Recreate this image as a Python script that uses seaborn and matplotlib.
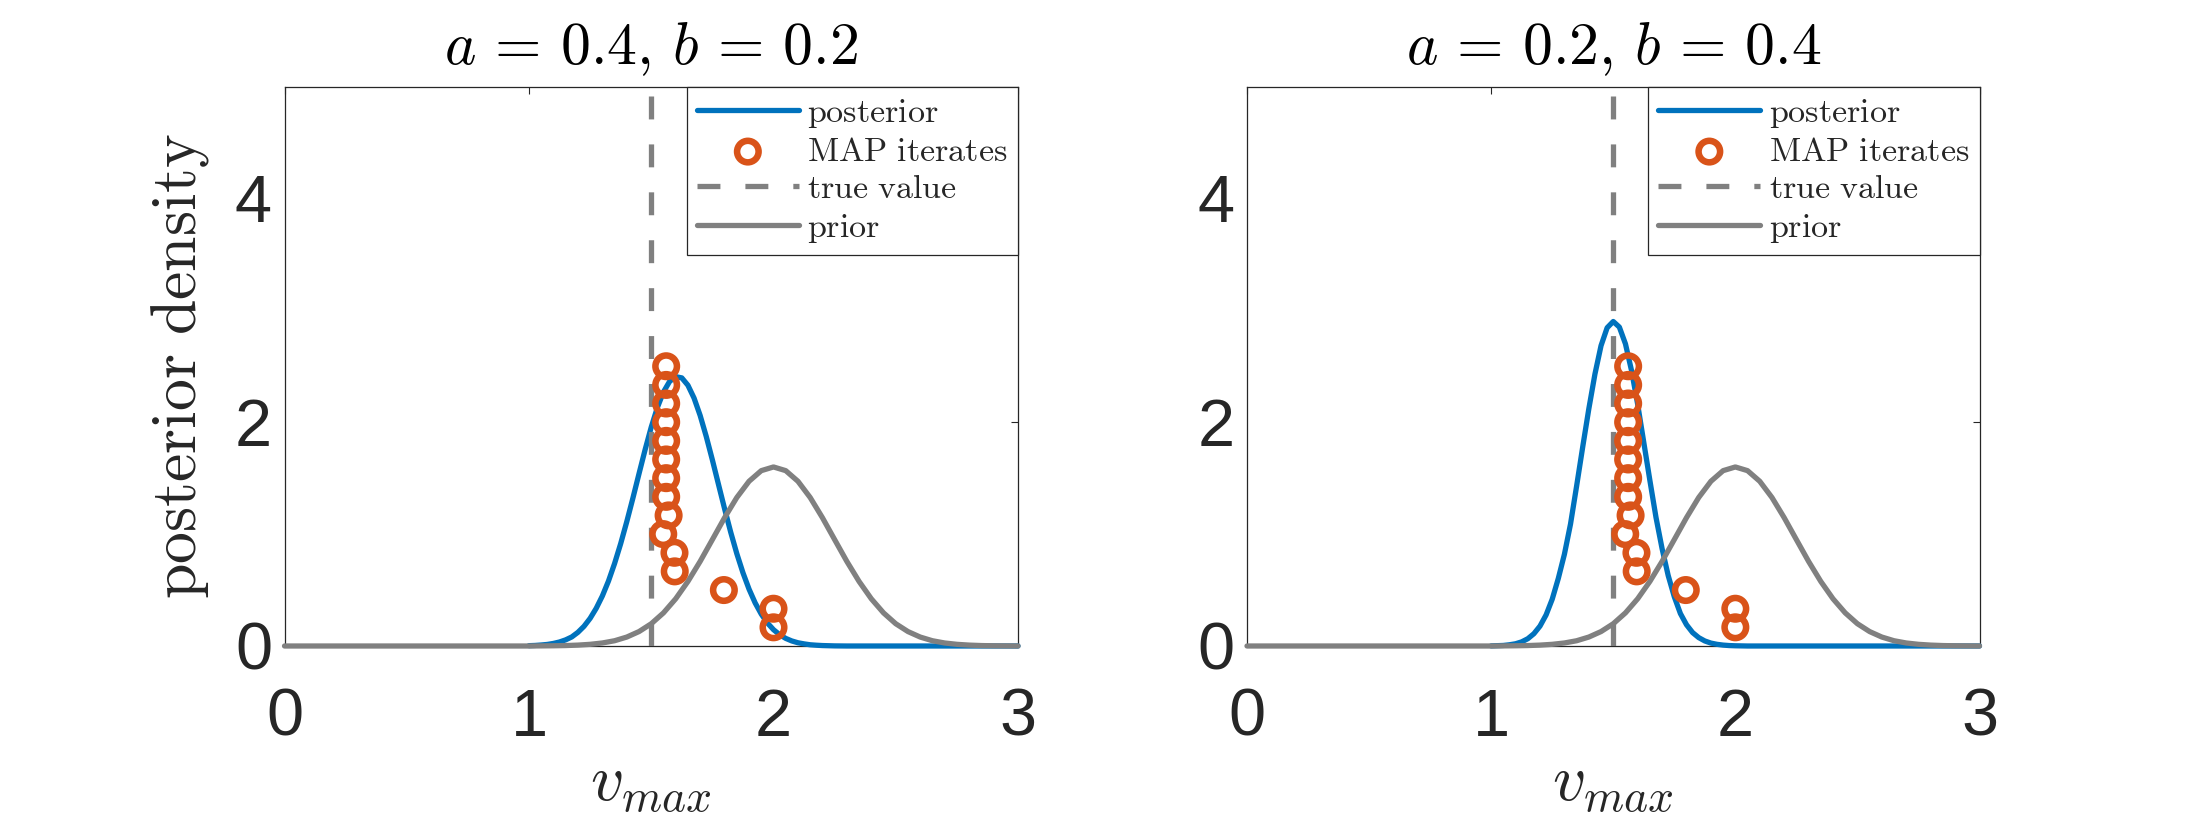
import matplotlib
matplotlib.use("Agg")
import matplotlib.pyplot as plt
import seaborn as sns

# ---------------- data ----------------
panel_titles = [r"$a\,=\,0.4,\,b\,=\,0.2$", r"$a\,=\,0.2,\,b\,=\,0.4$"]

post_x = [1.000, 1.025, 1.050, 1.075, 1.100, 1.125, 1.150, 1.175, 1.200, 1.225,
          1.250, 1.275, 1.300, 1.325, 1.350, 1.375, 1.400, 1.425, 1.450, 1.475,
          1.500, 1.525, 1.550, 1.575, 1.600, 1.625, 1.650, 1.675, 1.700, 1.725,
          1.750, 1.775, 1.800, 1.825, 1.850, 1.875, 1.900, 1.925, 1.950, 1.975,
          2.000, 2.025, 2.050, 2.075, 2.100, 2.125, 2.150, 2.175, 2.200, 2.250,
          2.300, 3.000]

post_left = [0.003, 0.005, 0.009, 0.014, 0.023, 0.036, 0.055, 0.081, 0.122, 0.176,
             0.247, 0.337, 0.447, 0.580, 0.737, 0.915, 1.112, 1.322, 1.540, 1.755,
             1.956, 2.131, 2.270, 2.364, 2.407, 2.396, 2.330, 2.216, 2.060, 1.872,
             1.663, 1.444, 1.226, 1.017, 0.825, 0.655, 0.508, 0.385, 0.285, 0.206,
             0.146, 0.101, 0.068, 0.045, 0.029, 0.019, 0.011, 0.007, 0.004, 0.001,
             0.000, 0.000]

post_right = [0.001, 0.003, 0.005, 0.011, 0.020, 0.037, 0.065, 0.110, 0.178, 0.278,
              0.418, 0.604, 0.820, 1.090, 1.430, 1.780, 2.120, 2.430, 2.684, 2.844,
              2.900, 2.850, 2.700, 2.460, 2.160, 1.820, 1.480, 1.150, 0.870, 0.630,
              0.440, 0.290, 0.190, 0.120, 0.075, 0.045, 0.026, 0.015, 0.008, 0.004,
              0.002, 0.001, 0.000, 0.000, 0.000, 0.000, 0.000, 0.000, 0.000, 0.000,
              0.000, 0.000]

prior_x = [0.00, 1.00, 1.05, 1.10, 1.15, 1.20, 1.25, 1.30, 1.35, 1.40, 1.45,
           1.50, 1.55, 1.60, 1.65, 1.70, 1.75, 1.80, 1.85, 1.90, 1.95, 2.00,
           2.05, 2.10, 2.15, 2.20, 2.25, 2.30, 2.35, 2.40, 2.45, 2.50, 2.55,
           2.60, 2.65, 2.70, 2.75, 2.80, 2.85, 2.90, 2.95, 3.00]
prior_y = [0.000, 0.000, 0.001, 0.002, 0.004, 0.008, 0.015, 0.027, 0.047, 0.080, 0.129,
           0.199, 0.296, 0.422, 0.577, 0.756, 0.951, 1.147, 1.327, 1.472, 1.567, 1.600,
           1.567, 1.472, 1.327, 1.147, 0.951, 0.756, 0.577, 0.422, 0.296, 0.199, 0.129,
           0.080, 0.047, 0.027, 0.015, 0.008, 0.004, 0.002, 0.001, 0.000]

map_x = [2.000, 2.000, 1.797, 1.596, 1.595, 1.549, 1.571, 1.561, 1.561, 1.561,
         1.561, 1.561, 1.561, 1.561, 1.561]
map_y = [0.167, 0.333, 0.500, 0.667, 0.833, 1.000, 1.167, 1.333, 1.500, 1.667,
         1.833, 2.000, 2.167, 2.333, 2.500]

true_value = 1.5

x_ticks = [0, 1, 2, 3]
y_ticks = [0, 2, 4]
legend_labels = ["posterior", "MAP iterates", "true value", "prior"]
x_label = r"$v_{max}$"
y_label = r"$\mathrm{posterior\ density}$"

# ---------------- style ----------------
sns.set_theme(style="white")
plt.rcParams["font.family"] = ["Liberation Sans", "DejaVu Sans"]
plt.rcParams["mathtext.fontset"] = "cm"
plt.rcParams["lines.scale_dashes"] = False

BLUE = "#0072BD"
ORANGE = "#D95319"
GRAY = "#808080"
AXC = "#262626"
LW = 3.8

W, H = 2187, 824
fig = plt.figure(figsize=(W / 100, H / 100), dpi=100)
ax_bottom = 1 - 646 / H
ax_height = 559.5 / H
axes = [fig.add_axes([284.5 / W, ax_bottom, 733.5 / W, ax_height]),
        fig.add_axes([1247 / W, ax_bottom, 732.5 / W, ax_height])]

for ax, title, post in zip(axes, panel_titles, [post_left, post_right]):
    sns.lineplot(x=post_x, y=post, ax=ax, color=BLUE, linewidth=LW,
                 estimator=None, sort=False, label=legend_labels[0],
                 zorder=3, clip_on=False)
    sns.scatterplot(x=map_x, y=map_y, ax=ax, marker="o", s=240,
                    color=ORANGE, facecolors="none", edgecolor=ORANGE,
                    linewidth=4.7, label=legend_labels[1], zorder=5)
    ax.axvline(true_value, color=GRAY, linewidth=LW,
               linestyle=(0, (16.5, 18)), label=legend_labels[2], zorder=3)
    sns.lineplot(x=prior_x, y=prior_y, ax=ax, color=GRAY, linewidth=LW,
                 estimator=None, sort=False, label=legend_labels[3],
                 zorder=4, clip_on=False)

    ax.set_xlim(0, 3)
    ax.set_ylim(0, 5)
    ax.set_xticks(x_ticks)
    ax.set_yticks(y_ticks)
    ax.tick_params(axis="both", which="both", direction="in", length=5,
                   width=0.8, color=AXC, labelcolor=AXC, labelsize=48,
                   top=True, right=True)
    ax.tick_params(axis="x", pad=30)
    ax.tick_params(axis="y", pad=9)
    for sp in ax.spines.values():
        sp.set_visible(True)
        sp.set_color(AXC)
        sp.set_linewidth(0.9)

    ax.set_title(title, fontsize=43, pad=16, color="black")
    ax.set_xlabel(x_label, fontsize=47, color=AXC)
    ax.xaxis.set_label_coords(0.5, -0.195)

    handles, labels = ax.get_legend_handles_labels()
    lookup = dict(zip(labels, handles))
    leg = ax.legend([lookup[l] for l in legend_labels],
                    [r"$\mathrm{" + l.replace(" ", r"\ ") + "}$" for l in legend_labels],
                    loc="upper right", bbox_to_anchor=(1, 1), borderaxespad=0,
                    fontsize=24.5, frameon=True, fancybox=False, framealpha=1,
                    edgecolor=AXC, handlelength=3.0, handletextpad=0.25,
                    labelspacing=0.2, borderpad=0.3, scatterpoints=1)
    leg.get_frame().set_linewidth(0.9)

axes[0].set_ylabel(y_label, fontsize=46, color=AXC)
axes[0].yaxis.set_label_coords(-0.1, 0.5)

fig.savefig("out.png", dpi=100)
